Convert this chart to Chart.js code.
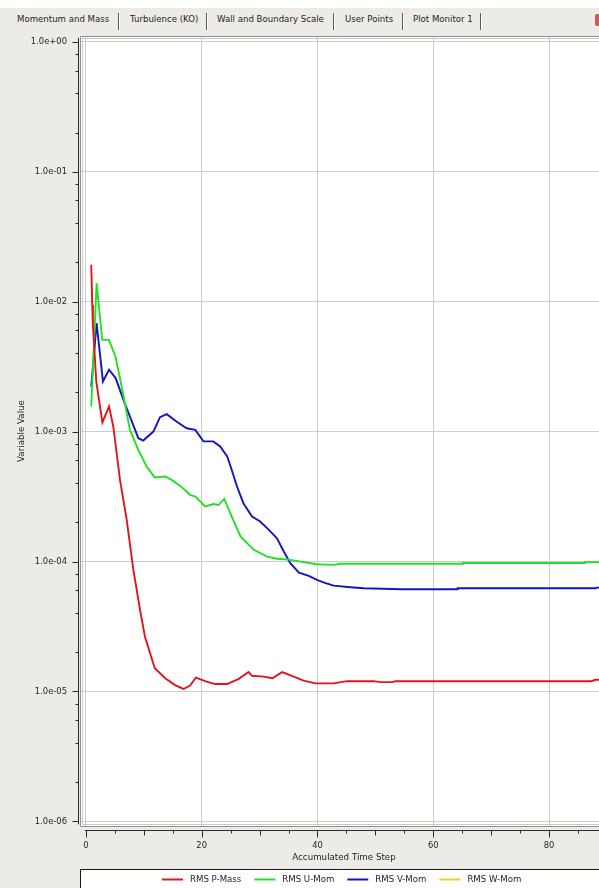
<!DOCTYPE html>
<html>
<head>
<meta charset="utf-8">
<script src="https://cdn.jsdelivr.net/npm/chart.js@4/dist/chart.umd.min.js"></script>
<style>
  html, body { margin: 0; padding: 0; }
  body { width: 599px; height: 888px; background: #edebe7; position: relative; overflow: hidden; font-family: "DejaVu Sans", sans-serif; }
  #topstrip { position: absolute; left: 0; top: 0; width: 599px; height: 8px; background: #ffffff; }
  #tabs { position: absolute; left: 0; top: 8px; width: 599px; height: 22px; background: #edebe7; z-index: 2; }
  .tab { position: absolute; top: 6px; font-size: 8.6px; color: #1e1e1e; white-space: nowrap; line-height: 11px; }
  .sep { position: absolute; top: 5px; width: 1px; height: 17px; background: #5a5a5a; box-shadow: 1px 0 0 #ffffff; }
  #closebox { position: absolute; left: 595px; top: 6px; width: 6px; height: 12px; background: #cf5a5a; border-radius: 2px; }
  canvas { position: absolute; left: 0; top: 0; z-index: 1; }
</style>
</head>
<body>
<div id="topstrip"></div>
<div id="tabs">
  <span class="tab" style="left:17px">Momentum and Mass</span>
  <div class="sep" style="left:118px"></div>
  <span class="tab" style="left:130px">Turbulence (KO)</span>
  <div class="sep" style="left:206px"></div>
  <span class="tab" style="left:217px">Wall and Boundary Scale</span>
  <div class="sep" style="left:333px"></div>
  <span class="tab" style="left:345px">User Points</span>
  <div class="sep" style="left:402px"></div>
  <span class="tab" style="left:413px">Plot Monitor 1</span>
  <div class="sep" style="left:480px"></div>
  <div id="closebox"></div>
</div>
<canvas id="c" width="599" height="888"></canvas>
<script>
// Residual histories (time step, RMS value)
const pMassSteps  = [0.92, 1.1, 1.21, 1.79, 2.85, 4.0, 4.73, 5.89, 7.05, 8.2, 9.35, 10.2, 11.9, 13.7, 15.4, 16.85, 18.0, 19.0, 20.6, 22.3, 24.4, 26.4, 28.1, 28.7, 30.7, 32.2, 33.9, 35.9, 37.6, 39.65, 42.8, 45.1, 49.7, 50.9, 52.9, 53.5, 87.3, 88.0, 89.0];
const pMassValues = [1.92e-2, 9.44e-3, 6.62e-3, 2.43e-3, 1.175e-3, 1.56e-3, 1.094e-3, 4.25e-4, 2.09e-4, 8.61e-5, 4.24e-5, 2.64e-5, 1.51e-5, 1.265e-5, 1.12e-5, 1.045e-5, 1.11e-5, 1.28e-5, 1.2e-5, 1.14e-5, 1.14e-5, 1.25e-5, 1.41e-5, 1.32e-5, 1.3e-5, 1.265e-5, 1.41e-5, 1.3e-5, 1.21e-5, 1.155e-5, 1.155e-5, 1.2e-5, 1.2e-5, 1.18e-5, 1.18e-5, 1.2e-5, 1.2e-5, 1.23e-5, 1.23e-5];

const uMomSteps  = [0.92, 1.85, 2.82, 3.98, 5.1, 6.18, 7.6, 9.06, 10.5, 11.9, 13.7, 14.8, 16.3, 18.0, 18.9, 20.6, 22.0, 22.9, 23.9, 25.2, 26.7, 29.0, 31.3, 33.0, 35.0, 37.1, 39.9, 42.8, 44.0, 65.0, 65.1, 86.1, 86.2, 89.0];
const uMomValues = [1.56e-3, 1.39e-2, 5.08e-3, 5.08e-3, 3.78e-3, 2.22e-3, 1.03e-3, 7.23e-4, 5.37e-4, 4.43e-4, 4.51e-4, 4.25e-4, 3.82e-4, 3.26e-4, 3.16e-4, 2.65e-4, 2.77e-4, 2.72e-4, 3.03e-4, 2.22e-4, 1.56e-4, 1.23e-4, 1.09e-4, 1.05e-4, 1.035e-4, 9.98e-5, 9.53e-5, 9.42e-5, 9.6e-5, 9.6e-5, 9.75e-5, 9.75e-5, 9.9e-5, 9.9e-5];

const vMomSteps  = [0.92, 1.85, 2.94, 4.0, 5.14, 6.6, 9.06, 9.9, 11.66, 12.8, 13.97, 15.7, 17.4, 18.9, 20.3, 22.0, 23.2, 24.4, 24.9, 26.1, 27.2, 28.7, 30.1, 31.6, 33.0, 34.2, 35.3, 36.8, 38.5, 39.9, 41.4, 42.8, 45.7, 48.0, 54.4, 64.1, 64.2, 88.1, 88.2, 89.0];
const vMomValues = [2.22e-3, 6.82e-3, 2.43e-3, 2.99e-3, 2.58e-3, 1.70e-3, 8.89e-4, 8.53e-4, 1.0e-3, 1.29e-3, 1.36e-3, 1.19e-3, 1.06e-3, 1.03e-3, 8.4e-4, 8.4e-4, 7.67e-4, 6.43e-4, 5.55e-4, 3.78e-4, 2.81e-4, 2.22e-4, 2.03e-4, 1.75e-4, 1.51e-4, 1.19e-4, 9.7e-5, 8.22e-5, 7.74e-5, 7.21e-5, 6.81e-5, 6.52e-5, 6.34e-5, 6.22e-5, 6.12e-5, 6.12e-5, 6.22e-5, 6.22e-5, 6.3e-5, 6.3e-5];

const wMomSteps  = [];
const wMomValues = [];

const seriesLabels = ['RMS P-Mass', 'RMS U-Mom', 'RMS V-Mom', 'RMS W-Mom'];
const seriesColors = ['#e0141c', '#22e022', '#1414c0', '#f0cc30'];

const xTickValues = [0, 20, 40, 60, 80];
const xTickLabels = ['0', '20', '40', '60', '80'];
const yTickValues = [1e0, 1e-1, 1e-2, 1e-3, 1e-4, 1e-5, 1e-6];
const yTickLabels = ['1.0e+00', '1.0e-01', '1.0e-02', '1.0e-03', '1.0e-04', '1.0e-05', '1.0e-06'];

const xTitle = 'Accumulated Time Step';
const yTitle = 'Variable Value';

function toPoints(xs, ys) {
  return xs.map((x, i) => ({ x: x, y: ys[i] }));
}

const FONT = '"DejaVu Sans", "Liberation Sans", sans-serif';

// Draws the plot frame, the detached axes with their tick marks, titles and the legend box
const monitorDecor = {
  id: 'monitorDecor',
  beforeDraw(chart) {
    const { ctx, chartArea: a } = chart;
    ctx.save();
    ctx.fillStyle = '#ffffff';
    ctx.fillRect(a.left, a.top, a.right - a.left, a.bottom - a.top);
    ctx.restore();
  },
  afterDraw(chart) {
    const { ctx, chartArea: a } = chart;
    const xs = chart.scales.x, ys = chart.scales.y;
    ctx.save();

    // frame (left, top, bottom)
    ctx.lineWidth = 1;
    ctx.strokeStyle = '#8e8e8e';
    ctx.beginPath();
    ctx.moveTo(600, a.top - 0.5); ctx.lineTo(a.left - 0.5, a.top - 0.5);
    ctx.lineTo(a.left - 0.5, a.bottom + 0.5); ctx.lineTo(600, a.bottom + 0.5);
    ctx.stroke();
    ctx.strokeStyle = '#c8c8c8';
    ctx.beginPath();
    ctx.moveTo(600, a.top + 1.5); ctx.lineTo(a.left + 1.5, a.top + 1.5);
    ctx.lineTo(a.left + 1.5, a.bottom - 1.5); ctx.lineTo(600, a.bottom - 1.5);
    ctx.stroke();

    // y axis
    const yAxisX = 78.5;
    const yTop = ys.getPixelForValue(yTickValues[0]);
    const yBot = ys.getPixelForValue(yTickValues[yTickValues.length - 1]);
    ctx.strokeStyle = '#2a2a2a';
    ctx.beginPath();
    ctx.moveTo(yAxisX, a.top + 1); ctx.lineTo(yAxisX, yBot + 3);
    ctx.stroke();
    ctx.beginPath();
    yTickValues.forEach(v => {
      const py = Math.round(ys.getPixelForValue(v)) + 0.5;
      ctx.moveTo(yAxisX - 6, py); ctx.lineTo(yAxisX, py);
      if (v > yTickValues[yTickValues.length - 1]) {
        [0.8, 0.6, 0.4, 0.2].forEach(m => {
          const pm = Math.round(ys.getPixelForValue(v * m)) + 0.5;
          ctx.moveTo(yAxisX - 3, pm); ctx.lineTo(yAxisX, pm);
        });
      }
    });
    ctx.stroke();
    ctx.fillStyle = '#1e1e1e';
    ctx.font = '8.4px ' + FONT;
    ctx.textAlign = 'right';
    ctx.textBaseline = 'middle';
    yTickValues.forEach((v, i) => {
      ctx.fillText(yTickLabels[i], 67, ys.getPixelForValue(v));
    });

    // x axis
    const xAxisY = 830.5;
    const x0 = xs.getPixelForValue(0);
    ctx.beginPath();
    ctx.moveTo(x0 - 1, xAxisY); ctx.lineTo(600, xAxisY);
    for (let s = 0; s <= 90; s += 5) {
      const px = Math.round(xs.getPixelForValue(s)) + 0.5;
      const len = s % 20 === 0 ? 7 : (s % 10 === 0 ? 5 : 3);
      ctx.moveTo(px, xAxisY); ctx.lineTo(px, xAxisY + len);
    }
    ctx.stroke();
    ctx.textAlign = 'center';
    ctx.textBaseline = 'middle';
    xTickValues.forEach((v, i) => {
      ctx.fillText(xTickLabels[i], xs.getPixelForValue(v), 846);
    });

    // axis titles
    ctx.font = '8.7px ' + FONT;
    ctx.fillText(xTitle, 344, 858);
    ctx.save();
    ctx.translate(22, 431);
    ctx.rotate(-Math.PI / 2);
    ctx.fillText(yTitle, 0, 0);
    ctx.restore();

    // legend box
    ctx.fillStyle = '#ffffff';
    ctx.fillRect(80, 869, 520, 20);
    ctx.strokeStyle = '#1a1a1a';
    ctx.beginPath();
    ctx.moveTo(80.5, 889); ctx.lineTo(80.5, 869.5); ctx.lineTo(600, 869.5);
    ctx.stroke();
    ctx.font = '8.6px ' + FONT;
    ctx.textAlign = 'left';
    let lx = 162;
    chart.data.datasets.forEach(ds => {
      ctx.strokeStyle = ds.borderColor;
      ctx.lineWidth = 2;
      ctx.beginPath();
      ctx.moveTo(lx, 879.5); ctx.lineTo(lx + 21, 879.5);
      ctx.stroke();
      lx += 28;
      ctx.fillStyle = '#1e1e1e';
      ctx.fillText(ds.label, lx, 880);
      lx += ctx.measureText(ds.label).width + 13;
    });

    ctx.restore();
  }
};

const datasets = [
  [pMassSteps, pMassValues],
  [uMomSteps, uMomValues],
  [vMomSteps, vMomValues],
  [wMomSteps, wMomValues]
].map((s, i) => ({
  label: seriesLabels[i],
  data: toPoints(s[0], s[1]),
  borderColor: seriesColors[i],
  backgroundColor: seriesColors[i],
  borderWidth: 1.9,
  pointRadius: 0,
  tension: 0,
  fill: false
}));

new Chart(document.getElementById('c'), {
  type: 'line',
  data: { datasets: datasets },
  options: {
    responsive: false,
    devicePixelRatio: 1,
    animation: false,
    layout: { padding: { left: 81, top: 37, right: 0, bottom: 62 } },
    plugins: { legend: { display: false }, tooltip: { enabled: false } },
    scales: {
      x: {
        type: 'linear',
        bounds: 'data',
        min: -0.846,
        max: 88.62,
        afterBuildTicks: sc => { sc.ticks = xTickValues.map(v => ({ value: v })); },
        ticks: { display: false },
        grid: { color: '#cdcdcd', lineWidth: 1, drawTicks: false },
        border: { display: false }
      },
      y: {
        type: 'logarithmic',
        bounds: 'data',
        min: 9.22e-7,
        max: 1.087,
        afterBuildTicks: sc => { sc.ticks = yTickValues.map(v => ({ value: v })); },
        ticks: { display: false },
        grid: { color: '#cdcdcd', lineWidth: 1, drawTicks: false },
        border: { display: false }
      }
    }
  },
  plugins: [monitorDecor]
});
</script>
</body>
</html>
